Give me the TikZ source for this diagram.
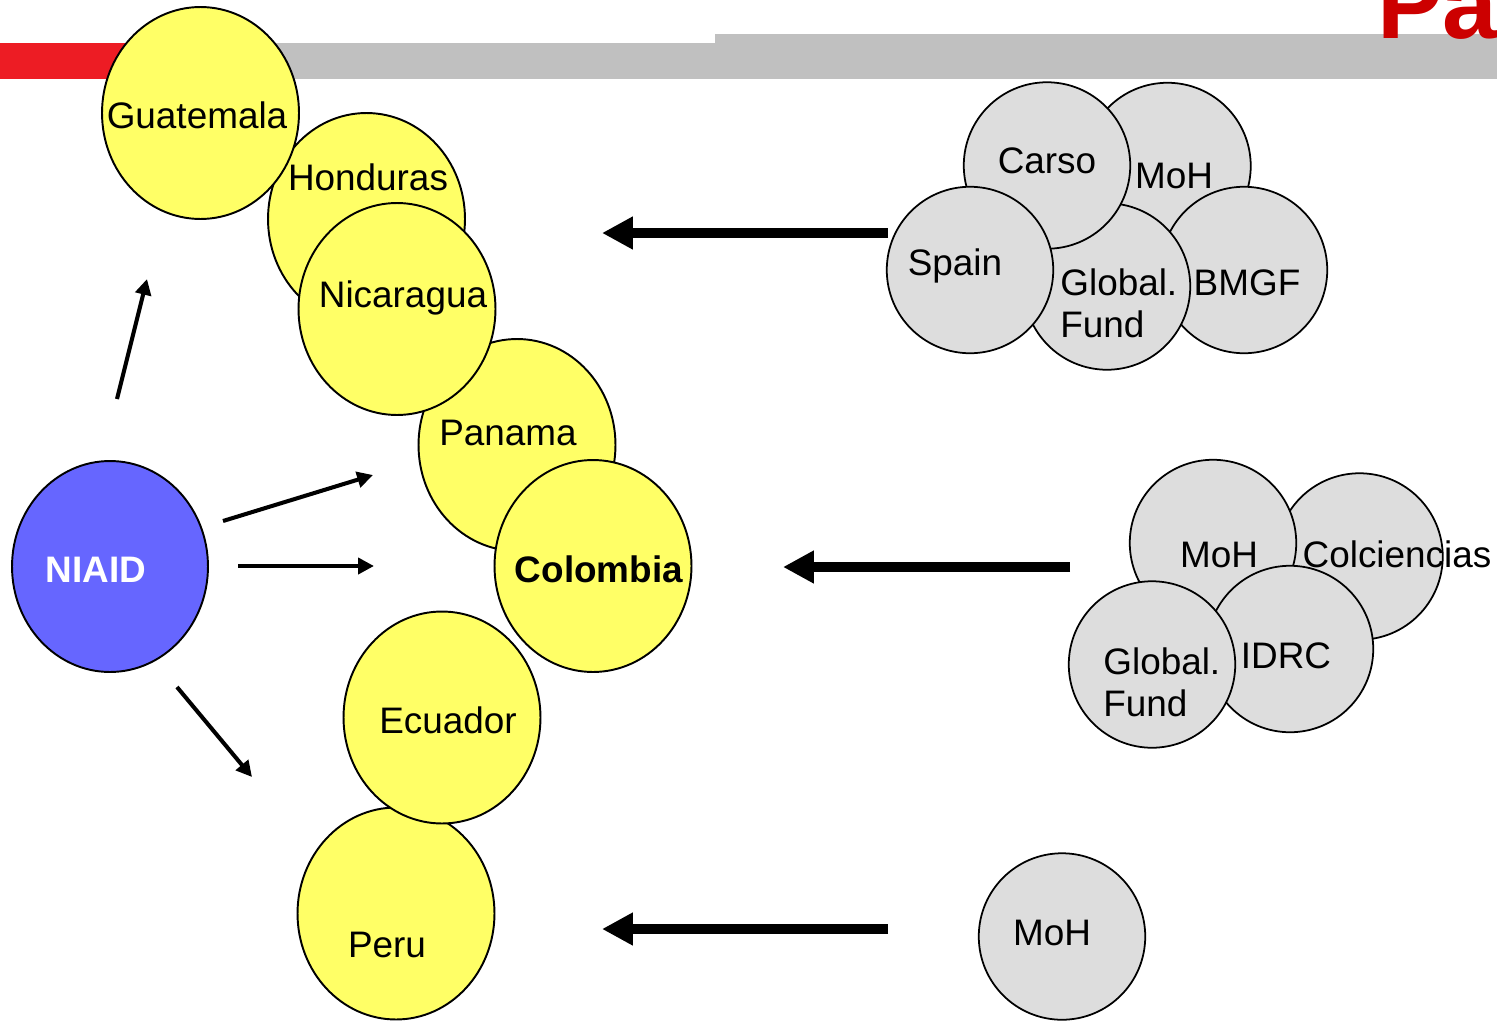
\documentclass[tikz,border=0pt]{standalone}
\usepackage{fontspec}
\setmainfont{Liberation Sans}
\usetikzlibrary{shapes.geometric,arrows.meta}
\definecolor{jaune}{RGB}{255,255,102}
\definecolor{gris}{RGB}{221,221,221}
\definecolor{bleu}{RGB}{102,102,255}
\definecolor{rouge}{RGB}{237,28,36}
\definecolor{rougetitre}{RGB}{204,0,0}
\definecolor{barre}{RGB}{192,192,192}

\begin{document}
\begin{tikzpicture}[x=0.02cm,y=-0.02cm,
  pays/.style={ellipse,draw,line width=1.1pt,fill=jaune,minimum width=3.94cm,minimum height=4.24cm,inner sep=0pt},
  bailleur/.style={circle,draw,line width=1pt,fill=gris,minimum size=3.33cm,inner sep=0pt},
  txt/.style={font=\fontsize{21}{24}\selectfont,inner sep=0pt,anchor=base},
  fleche/.style={line width=5.7pt,-{Triangle[length=17.6pt,width=17.6pt]}},
  petite/.style={line width=2.3pt,-{Triangle[length=9pt,width=9pt]}}]
\useasboundingbox (0,0) rectangle (1497,1021);
\clip (0,0) rectangle (1497,1021);
% bandeau du haut
\fill [rouge] (0,43) rectangle (150,79);
\fill [barre] (150,43) rectangle (715,79);
\fill [barre] (715,34) rectangle (1497,79);
\node [inner sep=0pt,anchor=base west,text=rougetitre,font=\bfseries\fontsize{56}{60}\selectfont] (pa) at (1377,38) {Pa};

% pays
\node [pays] (hon) at (366.5,219) {};
\node [txt] (hon-t) at (368,190) {Honduras};
\node [pays] (gua) at (200.5,113) {};
\node [txt] (gua-t) at (197,128) {Guatemala};
\node [pays] (pan) at (517,445) {};
\node [txt] (pan-t) at (508,445) {Panama};
\node [pays] (nic) at (397,309) {};
\node [txt] (nic-t) at (403,307) {Nicaragua};
\node [pays] (col) at (593,566) {};
\node [txt,font=\bfseries\fontsize{21}{24}\selectfont] (col-t) at (599,582) {Colombia};
\node [pays] (per) at (396,913.5) {};
\node [txt] (per-t) at (387,957) {Peru};
\node [pays] (ecu) at (442,717.5) {};
\node [txt] (ecu-t) at (448,733) {Ecuador};

\node [pays,fill=bleu,minimum width=3.92cm,minimum height=4.22cm] (niaid) at (110,566.5) {};
\node [txt,text=white,font=\bfseries\fontsize{21}{24}\selectfont] (niaid-t) at (96,582) {NIAID};

% bailleurs, groupe du haut
\node [bailleur] (moh1) at (1167.5,166) {};
\node [txt] (moh1-t) at (1174,188) {MoH};
\node [bailleur] (bmgf) at (1244,270) {};
\node [txt] (bmgf-t) at (1247,295) {BMGF};
\node [bailleur] (gf1) at (1107,286.5) {};
\node [txt,anchor=base west] (gf1-t) at (1060,295) {\begin{tabular}[t]{@{}l@{}}Global.\\Fund\end{tabular}};
\node [bailleur] (carso) at (1047,165.5) {};
\node [txt] (carso-t) at (1047,173) {Carso};
\node [bailleur] (spain) at (970,270) {};
\node [txt] (spain-t) at (955,275) {Spain};

% bailleurs, groupe du milieu
\node [bailleur] (colc) at (1359.5,556.5) {};
\node [txt] (colc-t) at (1397,567) {Colciencias};
\node [bailleur] (moh2) at (1213,543) {};
\node [txt] (moh2-t) at (1219,567) {MoH};
\node [bailleur] (idrc) at (1290,649) {};
\node [txt] (idrc-t) at (1286,668) {IDRC};
\node [bailleur] (gf2) at (1152,664.5) {};
\node [txt,anchor=base west] (gf2-t) at (1103,674) {\begin{tabular}[t]{@{}l@{}}Global.\\Fund\end{tabular}};

% bailleur du bas
\node [bailleur] (moh3) at (1062,936.5) {};
\node [txt] (moh3-t) at (1052,945) {MoH};

% fleches
\coordinate (d1) at (888,233);
\coordinate (f1) at (602,233);
\coordinate (d2) at (1070,567);
\coordinate (f2) at (783,567);
\coordinate (d3) at (888,929);
\coordinate (f3) at (602,929);
\draw [fleche] (d1) -- (f1);
\draw [fleche] (d2) -- (f2);
\draw [fleche] (d3) -- (f3);

\coordinate (n1) at (117,399);
\coordinate (p1) at (147,279);
\coordinate (n2) at (223,521);
\coordinate (p2) at (373,475);
\coordinate (n3) at (238,566);
\coordinate (p3) at (374,566);
\coordinate (n4) at (177,687);
\coordinate (p4) at (252,777);
\draw [petite] (n1) -- (p1);
\draw [petite] (n2) -- (p2);
\draw [petite] (n3) -- (p3);
\draw [petite] (n4) -- (p4);
\end{tikzpicture}
\end{document}
